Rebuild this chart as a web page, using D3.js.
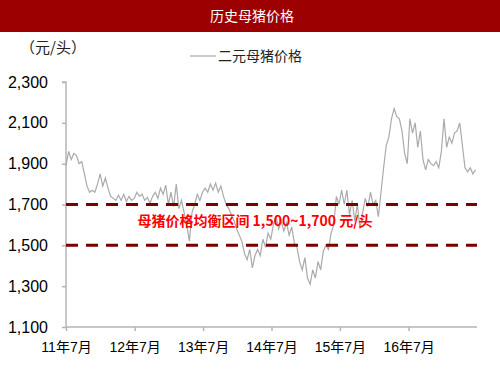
<!DOCTYPE html>
<html>
<head>
<meta charset="utf-8">
<script src="https://cdn.jsdelivr.net/npm/d3@7"></script>
<style>
  body { margin: 0; background: #fff; }
  svg { display: block; }
</style>
</head>
<body>
<div id="chart"></div>
<script>
// chart data (biweekly prices)
const startDate = '2011-07-01';
const stepDays = 14;
const prices = [
    1890, 1960, 1920, 1950, 1940, 1900, 1910, 1850, 1790, 1760,
    1770, 1760, 1800, 1850, 1790, 1830, 1780, 1740, 1730, 1720,
    1745, 1720, 1750, 1715, 1740, 1720, 1730, 1760, 1740, 1750,
    1720, 1735, 1705, 1740, 1760, 1730, 1780, 1750, 1795, 1700,
    1760, 1690, 1800, 1680, 1720, 1660, 1600, 1520, 1660, 1700,
    1750, 1720, 1760, 1780, 1760, 1800, 1770, 1805, 1760, 1790,
    1740, 1700, 1680, 1650, 1620, 1580, 1550, 1520, 1460, 1430,
    1480, 1390, 1450, 1480, 1450, 1530, 1490, 1560, 1530, 1600,
    1640, 1580, 1620, 1570, 1610, 1550, 1590, 1510, 1490, 1420,
    1380, 1440, 1340, 1310, 1380, 1340, 1420, 1380, 1470, 1500,
    1480, 1560, 1600, 1740, 1700, 1770, 1700, 1770, 1650, 1720,
    1620, 1700, 1580, 1660, 1730, 1690, 1760, 1700, 1720, 1640,
    1760, 1880, 1990, 2030, 2120, 2170, 2130, 2120, 2060, 1950,
    1900, 2120, 2050, 2100, 1980, 2060, 1920, 1870, 1920, 1900,
    1890, 1910, 1880, 1960, 2120, 1980, 2030, 2000, 2050, 2060,
    2100, 1990, 1880, 1860, 1880, 1850, 1870
];
const yTicks = [1100, 1300, 1500, 1700, 1900, 2100, 2300];
const xTicks = ['2011-07', '2012-07', '2013-07', '2014-07', '2015-07', '2016-07'];
const bandLines = [1500, 1700];

const seriesName = '二元母猪价格';
const title = '历史母猪价格';
const unitLabel = '（元/头）';
const noteText = '母猪价格均衡区间 1,500~1,700 元/头';

const width = 500;
const height = 375;
const margin = { top: 82, right: 23, bottom: 48, left: 66 };

const svg = d3.select('#chart')
    .append('svg')
    .attr('width', width)
    .attr('height', height);

// title bar
svg.append('rect')
    .attr('x', 0)
    .attr('y', 0)
    .attr('width', width)
    .attr('height', 32)
    .attr('fill', '#9c0000');
svg.append('text')
    .attr('x', 252)
    .attr('y', 21)
    .attr('text-anchor', 'middle')
    .attr('fill', '#fff')
    .style('font-family', '"Noto Sans CJK SC", sans-serif')
    .style('font-size', '14px')
    .text(title);

const parseDay = d3.timeParse('%Y-%m-%d');
const parseMonth = d3.timeParse('%Y-%m');
const t0 = parseDay(startDate);
const data = prices.map((v, i) => ({ date: d3.timeDay.offset(t0, i * stepDays), value: v }));

const xScale = d3.scaleTime()
    .domain([t0, parseDay('2017-07-01')])
    .range([margin.left, width - margin.right]);

const yScale = d3.scaleLinear()
    .domain([1100, 2300])
    .range([height - margin.bottom, margin.top]);

const yAxis = d3.axisLeft(yScale)
    .tickValues(yTicks)
    .tickSize(4)
    .tickPadding(14)
    .tickFormat(d3.format(','));

const xAxis = d3.axisBottom(xScale)
    .tickValues(xTicks.map(parseMonth))
    .tickSize(4)
    .tickPadding(11)
    .tickFormat(d => d3.timeFormat('%y')(d) + '年' + (d.getMonth() + 1) + '月');

const gy = svg.append('g')
    .attr('transform', `translate(${margin.left}, 0)`)
    .call(yAxis);
gy.selectAll('text')
    .style('font-family', '"Liberation Sans", Arial, sans-serif')
    .style('font-size', '16px')
    .attr('fill', '#000');

const gx = svg.append('g')
    .attr('transform', `translate(0, ${height - margin.bottom})`)
    .call(xAxis);
gx.selectAll('text')
    .style('font-family', '"Liberation Sans", "Noto Sans CJK SC", sans-serif')
    .style('font-size', '14px')
    .attr('fill', '#000');

svg.selectAll('.domain, .tick line')
    .attr('stroke', '#b5b5b5')
    .attr('stroke-width', 1.5);
gy.select('.domain').attr('d', `M-4,${yScale(2300)}H0V${yScale(1100)}`);
gx.select('.domain').attr('d', `M${margin.left},0H${width - margin.right}`);

// price line
const line = d3.line()
    .x(d => xScale(d.date))
    .y(d => yScale(d.value));

svg.append('path')
    .datum(data)
    .attr('fill', 'none')
    .attr('stroke', '#aaaaaa')
    .attr('stroke-width', 1.2)
    .attr('d', line);

// equilibrium band lines
svg.selectAll('.band')
    .data(bandLines)
    .enter()
    .append('line')
    .attr('class', 'band')
    .attr('x1', margin.left)
    .attr('x2', width - margin.right)
    .attr('y1', d => yScale(d))
    .attr('y2', d => yScale(d))
    .attr('stroke', '#7a0000')
    .attr('stroke-width', 3)
    .attr('stroke-dasharray', '12,8');

svg.append('text')
    .attr('x', 255)
    .attr('y', yScale(1600) + 1)
    .attr('text-anchor', 'middle')
    .attr('fill', '#ff0000')
    .style('font-family', '"Noto Sans CJK SC", sans-serif')
    .style('font-size', '14px')
    .style('font-weight', 'bold')
    .text(noteText);

// unit label
svg.append('text')
    .attr('x', 20)
    .attr('y', 53)
    .attr('fill', '#222')
    .style('font-family', '"Noto Sans CJK SC", sans-serif')
    .style('font-size', '15px')
    .text(unitLabel);

// legend
svg.append('line')
    .attr('x1', 190)
    .attr('x2', 216)
    .attr('y1', 56)
    .attr('y2', 56)
    .attr('stroke', '#aaaaaa')
    .attr('stroke-width', 1.2);
svg.append('text')
    .attr('x', 218)
    .attr('y', 61)
    .attr('fill', '#222')
    .style('font-family', '"Noto Sans CJK SC", sans-serif')
    .style('font-size', '14px')
    .text(seriesName);
</script>
</body>
</html>
